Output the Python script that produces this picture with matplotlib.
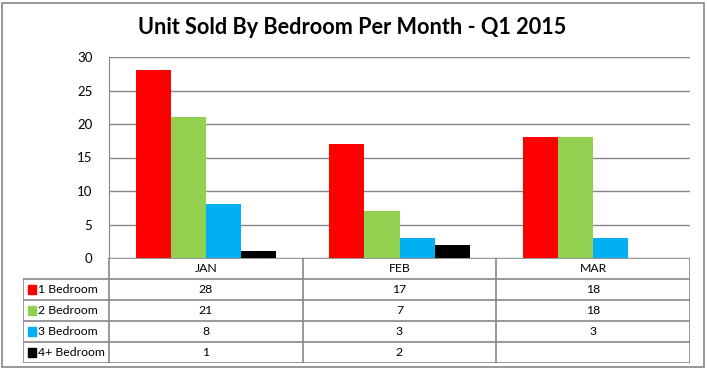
import numpy as np
import matplotlib.pyplot as plt
from matplotlib.patches import Rectangle

# ==========================
# Data
# ==========================
months = ["JAN", "FEB", "MAR"]
series_names = ["1 Bedroom", "2 Bedroom", "3 Bedroom", "4+ Bedroom"]
one_bed = [28, 17, 18]
two_bed = [21, 7, 18]
three_bed = [8, 3, 3]
four_bed = [1, 2, None]
colors = ["#ff0000", "#92d050", "#00b0f0", "#000000"]
title = "Unit Sold By Bedroom Per Month - Q1 2015"

plt.rcParams['font.family'] = ['Lato', 'DejaVu Sans']
W, H = 707, 370
grid_col = "#868686"

fig = plt.figure(figsize=(W / 100, H / 100), dpi=100)
fig.patch.set_facecolor("white")

# outer chart border
fig.add_artist(Rectangle((2 / W, 3 / H), 702 / W, 364 / H, transform=fig.transFigure,
                         fill=False, edgecolor=grid_col, linewidth=1.2))

fig.text(352 / W, 1 - 27 / H, title, ha="center", va="center",
         fontsize=15.6, fontweight="bold")

# ==========================
# Bar chart
# ==========================
ax = fig.add_axes([109 / W, 1 - 258 / H, 581 / W, 201 / H])
x = np.arange(len(months))
bw = 0.181
all_series = [one_bed, two_bed, three_bed, four_bed]
for i, (vals, c) in enumerate(zip(all_series, colors)):
    v = [np.nan if a is None else a for a in vals]
    ax.bar(x + (i - 1.5) * bw, v, bw, color=c, zorder=3)

ax.set_xlim(-0.5, 2.5)
ax.set_ylim(0, 30)
ax.set_yticks(range(0, 31, 5))
ax.set_xticks([])
ax.yaxis.grid(True, color=grid_col, linewidth=1)
ax.tick_params(axis="y", length=0, pad=12, labelsize=9.5)
for s in ["top", "right", "bottom"]:
    ax.spines[s].set_visible(False)
ax.spines["left"].set_color(grid_col)

# ==========================
# Data table
# ==========================
tx0 = -0.5 - 86 / (581 / 3)
tax = fig.add_axes([23 / W, 1 - 363 / H, 667 / W, 105 / H])
tax.set_xlim(tx0, 2.5)
tax.set_ylim(5, 0)
tax.axis("off")

lw = 1.2
# horizontal lines
tax.plot([-0.5, 2.5], [0, 0], color=grid_col, lw=lw)
for r in range(1, 6):
    tax.plot([tx0, 2.5], [r, r], color=grid_col, lw=lw)
# vertical lines
tax.plot([tx0, tx0], [1, 5], color=grid_col, lw=lw)
for c in range(4):
    tax.plot([c - 0.5, c - 0.5], [0, 5], color=grid_col, lw=lw)

for j, m in enumerate(months):
    tax.text(j, 0.5, m, ha="center", va="center", fontsize=8.8)

for i, (name, vals, c) in enumerate(zip(series_names, all_series, colors)):
    row = i + 1.5
    tax.add_patch(Rectangle((tx0 + 0.027, row - 0.2), 0.04, 0.4, color=c))
    tax.text(tx0 + 0.075, row, name, ha="left", va="center", fontsize=8.8)
    for j, v in enumerate(vals):
        if v is not None:
            tax.text(j, row, str(v), ha="center", va="center", fontsize=8.8)

fig.savefig("out.png", dpi=100)
